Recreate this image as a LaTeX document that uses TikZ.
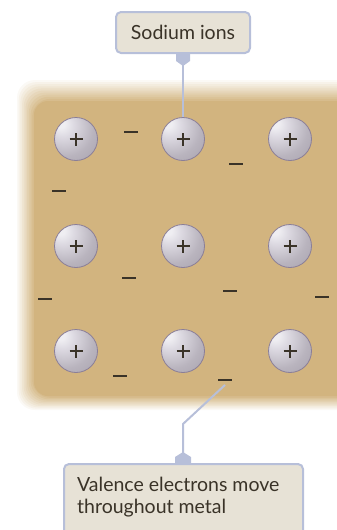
\documentclass[tikz,border=0pt]{standalone}
\usepackage{fontspec}
\setmainfont{Lato}
\usetikzlibrary{calc}
\definecolor{metal}{HTML}{D2B47F}
\definecolor{lead}{HTML}{B7BFD9}
\definecolor{labelfill}{HTML}{E7E2D6}
\definecolor{ink}{HTML}{3A3328}
\definecolor{ionrim}{HTML}{8A7E98}
\definecolor{ionhi}{HTML}{EFEEF2}
\definecolor{ionlight}{HTML}{DEDBE3}
\definecolor{ionmid}{HTML}{B9B4BE}
\definecolor{ionlow}{HTML}{A59FAB}
\definecolor{iondark}{HTML}{877B9A}
\pgfdeclareradialshading{ionball}{\pgfpoint{-19bp}{19bp}}{%
  color(0bp)=(ionhi); color(5bp)=(ionhi); color(13bp)=(ionlight);
  color(32bp)=(ionmid); color(52bp)=(ionlow); color(64bp)=(ionlow);
  color(72bp)=(iondark); color(90bp)=(iondark)}
\tikzset{
  ion/.style={circle, minimum size=43pt, inner sep=0pt, shading=ionball,
    draw=ionrim, line width=0.8pt,
    path picture={\draw[ink, line width=1.3pt]
      ($(path picture bounding box.center)+(-6.5pt,0)$) -- ++(13pt,0)
      ($(path picture bounding box.center)+(0,-6.5pt)$) -- ++(0,13pt);}},
  electron/.style={inner sep=0pt, text=ink},
  labeltext/.style={font=\fontsize{19.5}{22}\selectfont, text=ink},
  callout/.style={draw=lead, fill=labelfill, line width=2pt, rounded corners=5pt,
    inner sep=0pt, labeltext},
  leadline/.style={draw=lead, line width=2pt},
  tab/.style={fill=lead, draw=none}
}
\begin{document}
\begin{tikzpicture}[x=1pt,y=-1pt]
\useasboundingbox (0,0) rectangle (337,530);
% metal block with a soft, fading rim
\foreach \i in {0,...,9}{
  \pgfmathsetmacro{\mix}{8+\i*9}
  \fill[metal!\mix!white, rounded corners=18pt]
    (17+\i*1.7,80+\i*2.1) rectangle (380,410-\i*1.35);
}
\fill[metal, rounded corners=14pt] (34,101) rectangle (380,396);
% sodium ions
\node[ion] (i11) at (76,139) {};
\node[ion] (i12) at (183,139) {};
\node[ion] (i13) at (290,139) {};
\node[ion] (i21) at (76,246) {};
\node[ion] (i22) at (183,246) {};
\node[ion] (i23) at (290,246) {};
\node[ion] (i31) at (76,351) {};
\node[ion] (i32) at (183,351) {};
\node[ion] (i33) at (290,351) {};
% valence electrons
\node[electron] (e1) at (131,132) {\rule{14pt}{1.5pt}};
\node[electron] (e2) at (236,164) {\rule{14pt}{1.5pt}};
\node[electron] (e3) at (59,191) {\rule{14pt}{1.5pt}};
\node[electron] (e4) at (129,278) {\rule{14pt}{1.5pt}};
\node[electron] (e5) at (230,291) {\rule{14pt}{1.5pt}};
\node[electron] (e6) at (45,299) {\rule{14pt}{1.5pt}};
\node[electron] (e7) at (322,297) {\rule{14pt}{1.5pt}};
\node[electron] (e8) at (120,376) {\rule{14pt}{1.5pt}};
\node[electron] (e9) at (225,380) {\rule{14pt}{1.5pt}};
% top callout
\node[callout, minimum width=134pt, minimum height=41pt] (ions) at (183,32.5) {Sodium ions};
\fill[tab] (176,54) -- (190,54) -- (190,61) -- (183,66) -- (176,61) -- cycle;
\coordinate (ionsTab) at (183,64);
\draw[leadline] (ionsTab) -- (i12.north);
% bottom callout
\node[callout, anchor=north west, minimum width=239pt, minimum height=80pt] (elec) at (63,463) {};
\node[labeltext, anchor=west, align=left, inner sep=0pt]
  (elecText) at (77,497) {Valence electrons move\\throughout metal};
\fill[tab] (175,463) -- (175,457) -- (183,452) -- (191,457) -- (191,463) -- cycle;
\coordinate (elecTab) at (183,454);
\coordinate (bend) at (183,424);
\draw[leadline] ($(e9.south)+(0,4)$) -- (bend) -- (elecTab);
\end{tikzpicture}
\end{document}
